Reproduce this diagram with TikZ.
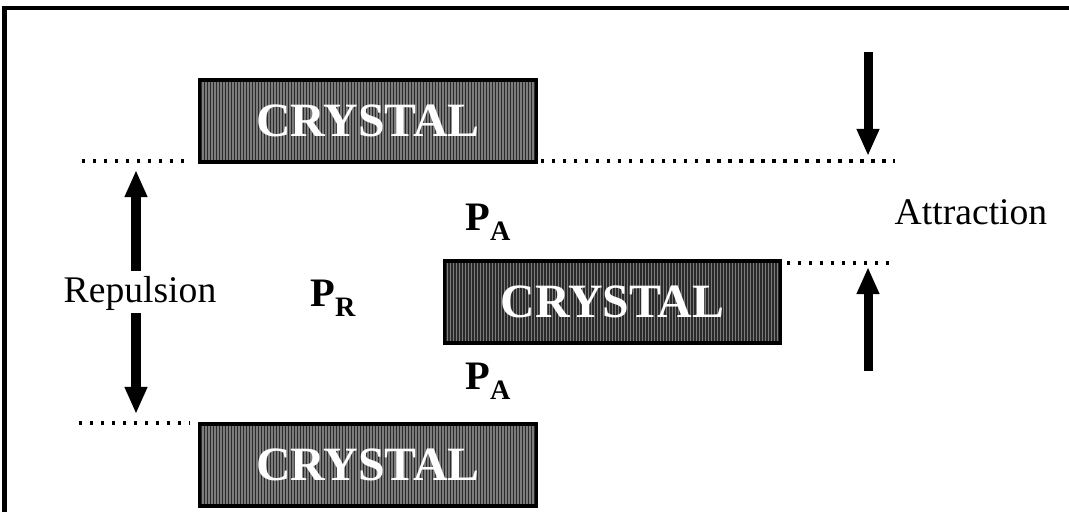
\documentclass[tikz,border=0pt]{standalone}
\usepackage{fontspec}
\setmainfont{Liberation Serif}
\usetikzlibrary{arrows.meta}
\definecolor{boxdark}{HTML}{2A2A2A}
\definecolor{boxline}{HTML}{7C7C7C}
\newcommand{\Psub}[1]{\textbf{P}\raisebox{-0.55ex}{\footnotesize\textbf{#1}}}
\begin{document}
\begin{tikzpicture}[x=0.01cm,y=-0.01cm,
  crystal/.style={draw=black, line width=0.9pt, fill=boxdark,
    path picture={\foreach \i in {1,...,111}{
      \draw[boxline, line width=0.012cm]
        ([xshift=\i*0.03cm]path picture bounding box.south west) --
        ([xshift=\i*0.03cm]path picture bounding box.north west);}},
    minimum width=3.36cm, minimum height=0.82cm, inner sep=0pt,
    font=\bfseries\fontsize{13.6}{15}\selectfont, text=white},
  dotline/.style={line width=0.034cm, dash pattern=on 0.034cm off 0.076cm},
  force/.style={line width=0.09cm, -{Triangle[width=0.21cm,length=0.27cm]}},
  lbl/.style={font=\fontsize{10.7}{13}\selectfont, inner sep=0pt},
  plbl/.style={font=\fontsize{11.5}{14}\selectfont, inner sep=0pt}]
\useasboundingbox (0,0) rectangle (1069,512);
% frame (top and left edges)
\draw[line width=0.04cm] (4.5,512) -- (4.5,8) -- (1069,8);
% crystals
\node[crystal] (c1) at (368,121) {CRYSTAL};
\node[crystal] (c2) at (612.5,302) {CRYSTAL};
\node[crystal] (c3) at (368,465) {CRYSTAL};
% dotted reference lines
\coordinate (t1) at (82,161);  \coordinate (t2) at (190,161);
\coordinate (t3) at (541,161); \coordinate (t4) at (895,161);
\coordinate (m1) at (787,263); \coordinate (m2) at (895,263);
\coordinate (b1) at (79,423);  \coordinate (b2) at (190,423);
\draw[dotline] (t1) -- (t2);
\draw[dotline] (t3) -- (t4);
\draw[dotline] (m1) -- (m2);
\draw[dotline] (b1) -- (b2);
% labels
\node[lbl] (rep) at (140,293) {Repulsion};
\node[lbl] (att) at (971,212) {Attraction};
\node[plbl] (pa1) at (488,222) {\Psub{A}};
\node[plbl] (pr) at (333,298) {\Psub{R}};
\node[plbl] (pa2) at (488,381) {\Psub{A}};
% force arrows
\coordinate (ru0) at (136,271); \coordinate (ru1) at (136,170);
\coordinate (rd0) at (136,313); \coordinate (rd1) at (136,414);
\coordinate (ad0) at (868,52);  \coordinate (ad1) at (868,156);
\coordinate (au0) at (868,371); \coordinate (au1) at (868,267);
\draw[force] (ru0) -- (ru1);
\draw[force] (rd0) -- (rd1);
\draw[force] (ad0) -- (ad1);
\draw[force] (au0) -- (au1);
\end{tikzpicture}
\end{document}
